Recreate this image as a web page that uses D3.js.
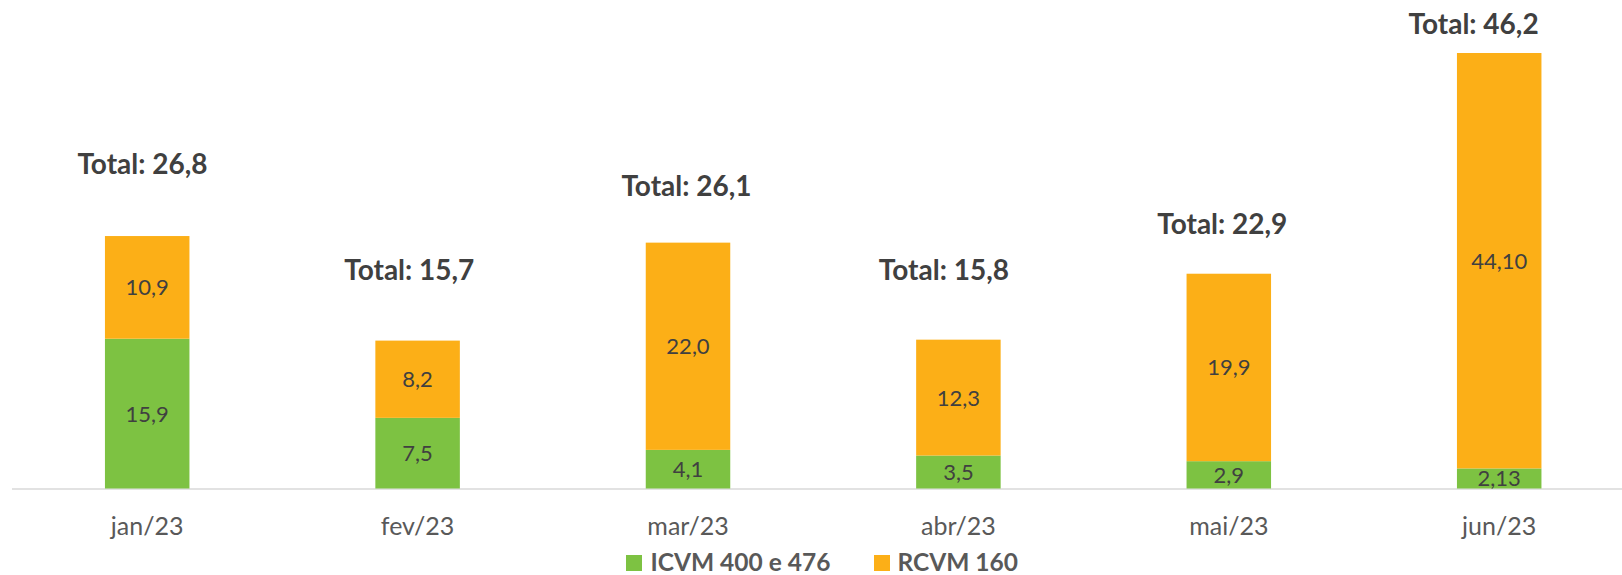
<!DOCTYPE html>
<html>
<head>
<meta charset="utf-8">
<script src="https://cdn.jsdelivr.net/npm/d3@7"></script>
<style>
  html, body { margin: 0; padding: 0; background: #fff; }
  svg { display: block; font-family: Lato, "Open Sans", sans-serif; }
</style>
</head>
<body>
<svg id="chart" width="1622" height="575"></svg>
<script>
// ---- data ----
const categories = ["jan/23", "fev/23", "mar/23", "abr/23", "mai/23", "jun/23"];
const icvmValues = [15.9, 7.5, 4.1, 3.5, 2.9, 2.13];
const rcvmValues = [10.9, 8.2, 22.0, 12.3, 19.9, 44.10];
const icvmLabels = ["15,9", "7,5", "4,1", "3,5", "2,9", "2,13"];
const rcvmLabels = ["10,9", "8,2", "22,0", "12,3", "19,9", "44,10"];
const totalLabels = ["Total: 26,8", "Total: 15,7", "Total: 26,1", "Total: 15,8", "Total: 22,9", "Total: 46,2"];
const seriesNames = ["ICVM 400 e 476", "RCVM 160"];

// ---- layout (manually placed total text boxes: dx from bar centre, gap above bar top) ----
const totalDx = [-4.7, -8.3, -1.5, -14.5, -6.5, -25.6];
const totalGap = [62.4, 61, 46.3, 60, 39.7, 19.3];

const colors = { icvm: "#7DC242", rcvm: "#FCAF17" };
const textColor = "#404040";

const svg = d3.select("#chart");

const x = d3.scaleBand()
  .domain(categories)
  .range([12, 1634.4])
  .paddingInner(0.6875)
  .paddingOuter(0.34375);

const y = d3.scaleLinear().domain([0, 50]).range([488.5, 17.5]);

const rows = categories.map((c, i) => ({
  cat: c, icvm: icvmValues[i], rcvm: rcvmValues[i]
}));
const stackData = d3.stack().keys(["icvm", "rcvm"])(rows);

// axis line
svg.append("line")
  .attr("x1", 12).attr("x2", 1622)
  .attr("y1", y(0) + 0.5).attr("y2", y(0) + 0.5)
  .attr("stroke", "#d9d9d9").attr("stroke-width", 1.5);

// bars
const layers = svg.selectAll("g.layer").data(stackData).join("g")
  .attr("class", "layer")
  .attr("fill", d => colors[d.key]);

layers.selectAll("rect").data(d => d).join("rect")
  .attr("x", d => x(d.data.cat))
  .attr("width", x.bandwidth())
  .attr("y", d => y(d[1]))
  .attr("height", d => y(d[0]) - y(d[1]));

// value labels
const labelSets = { icvm: icvmLabels, rcvm: rcvmLabels };
stackData.forEach(layer => {
  svg.append("g").selectAll("text").data(layer).join("text")
    .attr("x", d => x(d.data.cat) + x.bandwidth() / 2)
    .attr("y", d => (y(d[0]) + y(d[1])) / 2)
    .attr("dy", "0.36em")
    .attr("text-anchor", "middle")
    .attr("font-size", 22)
    .attr("fill", textColor)
    .text((d, i) => labelSets[layer.key][i]);
});

// total labels
const topLayer = stackData[stackData.length - 1];
svg.append("g").selectAll("text").data(topLayer).join("text")
  .attr("x", (d, i) => x(d.data.cat) + x.bandwidth() / 2 + totalDx[i])
  .attr("y", (d, i) => y(d[1]) - totalGap[i])
  .attr("text-anchor", "middle")
  .attr("font-size", 28)
  .attr("font-weight", "bold")
  .attr("fill", textColor)
  .text((d, i) => totalLabels[i]);

// category axis labels
const xAxis = d3.axisBottom(x).tickSize(0).tickPadding(0);
const axisG = svg.append("g").attr("transform", `translate(0,${y(0)})`).call(xAxis);
axisG.select(".domain").remove();
axisG.selectAll("text")
  .attr("y", 46.5).attr("dy", 0)
  .attr("font-size", 25)
  .attr("font-family", "Lato, 'Open Sans', sans-serif")
  .attr("fill", "#595959");

// legend
const legendItems = [
  { name: seriesNames[0], color: colors.icvm, sx: 626, tx: 650.5 },
  { name: seriesNames[1], color: colors.rcvm, sx: 874, tx: 897.5 }
];
const lg = svg.append("g");
legendItems.forEach(it => {
  lg.append("rect").attr("x", it.sx).attr("y", 555).attr("width", 16).attr("height", 16).attr("fill", it.color);
  lg.append("text").attr("x", it.tx).attr("y", 570.5)
    .attr("font-size", 24.5).attr("font-weight", "bold").attr("fill", "#595959")
    .text(it.name);
});
</script>
</body>
</html>
